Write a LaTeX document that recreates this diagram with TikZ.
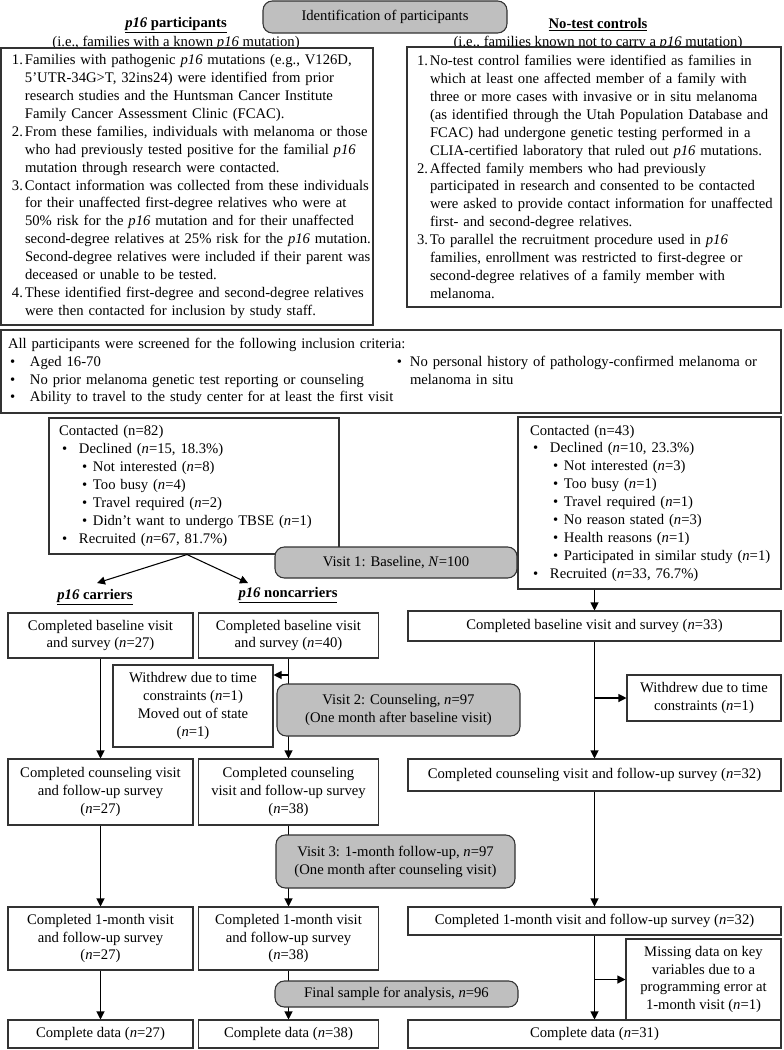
\documentclass[tikz,border=0pt]{standalone}
\usepackage{fontspec}
\setmainfont{Liberation Serif}
\usepackage{tikz}
\usetikzlibrary{arrows,arrows.meta,positioning}

\newdimen\px \px=0.75pt
% numbered item: first line and continuation line (never broken)
\newcommand{\li}[2]{\mbox{\makebox[13\px][l]{#1}#2}}
\newcommand{\lc}[1]{\mbox{\hspace*{13\px}#1}}
% bullet item: #1 shift, #2 bullet width
\newcommand{\bitem}[2]{\par\noindent\hangindent=\dimexpr#1\px+#2\px\relax\hangafter=1\hspace*{#1\px}\makebox[#2\px][l]{\textbullet}}
\newcommand{\cbul}{\hspace*{3\px}\makebox[17\px][l]{\textbullet}}
\newcommand{\sbul}{\hspace*{23\px}\makebox[11\px][l]{\textbullet}}

\begin{document}
\begin{tikzpicture}[x=0.75pt,y=-0.75pt,
  every node/.style={font=\fontsize{11}{13.4}\selectfont},
  box/.style={draw=black!80, line width=0.8pt, fill=white, inner sep=0pt, align=center},
  visit/.style={box, fill=black!25, rounded corners=7pt},
  sz/.style 2 args={minimum width=#1\px, minimum height=#2\px},
  lbl/.style={inner sep=0pt},
  arr/.style={-{Triangle[length=6pt,width=6pt]}, line width=0.8pt}]
\useasboundingbox (0,0) rectangle (784,1050);

% headings
\node[lbl] (lhead) at (176,25) {\underline{\textbf{\textit{p16} participants}}};
\node[lbl] (lsub) at (176,43) {(i.e., families with a known \textit{p16} mutation)};
\node[lbl] (rhead) at (598,25) {\underline{\textbf{No-test controls}}};
\node[lbl] (rsub) at (598,43) {(i.e., families known not to carry a \textit{p16} mutation)};

\node[box, sz={372}{277}, text width=350\px, align=left] (lbox) at (187,186.5) {%
\li{1.}{Families with pathogenic \textit{p16} mutations (e.g., V126D,}\\
\lc{5’UTR-34G>T, 32ins24) were identified from prior}\\
\lc{research studies and the Huntsman Cancer Institute}\\
\lc{Family Cancer Assessment Clinic (FCAC).}\\
\li{2.}{From these families, individuals with melanoma or those}\\
\lc{who had previously tested positive for the familial \textit{p16}}\\
\lc{mutation through research were contacted.}\\
\li{3.}{Contact information was collected from these individuals}\\
\lc{for their unaffected first-degree relatives who were at}\\
\lc{50\% risk for the \textit{p16} mutation and for their unaffected}\\
\lc{second-degree relatives at 25\% risk for the \textit{p16} mutation.}\\
\lc{Second-degree relatives were included if their parent was}\\
\lc{deceased or unable to be tested.}\\
\li{4.}{These identified first-degree and second-degree relatives}\\
\lc{were then contacted for inclusion by study staff.}};

\node[box, sz={374}{260}, text width=354\px, align=left] (rbox) at (594,177) {%
\li{1.}{No-test control families were identified as families in}\\
\lc{which at least one affected member of a family with}\\
\lc{three or more cases with invasive or in situ melanoma}\\
\lc{(as identified through the Utah Population Database and}\\
\lc{FCAC) had undergone genetic testing performed in a}\\
\lc{CLIA-certified laboratory that ruled out \textit{p16} mutations.}\\
\li{2.}{Affected family members who had previously}\\
\lc{participated in research and consented to be contacted}\\
\lc{were asked to provide contact information for unaffected}\\
\lc{first- and second-degree relatives.}\\
\li{3.}{To parallel the recruitment procedure used in \textit{p16}}\\
\lc{families, enrollment was restricted to first-degree or}\\
\lc{second-degree relatives of a family member with}\\
\lc{melanoma.}};

\node[box, sz={780}{83}, text width=766\px, align=left] (incl) at (391,371.5) {%
All participants were screened for the following inclusion criteria:\par
\noindent\parbox[t]{389\px}{\bitem{2}{20}Aged 16-70\bitem{2}{20}No prior melanoma genetic test reporting or counseling\bitem{2}{20}Ability to travel to the study center for at least the first visit}%
\parbox[t]{377\px}{\bitem{0}{13}No personal history of pathology-confirmed melanoma or\newline melanoma in situ}};

\node[box, sz={290}{136}, text width=270\px, align=left] (lcont) at (194,486) {%
Contacted (n=82)\\
\cbul Declined (\textit{n}=15, 18.3\%)\\
\sbul Not interested (\textit{n}=8)\\
\sbul Too busy (\textit{n}=4)\\
\sbul Travel required (\textit{n}=2)\\
\sbul \mbox{Didn’t want to undergo TBSE (\textit{n}=1)}\\
\cbul Recruited (\textit{n}=67, 81.7\%)};

\node[box, sz={263}{172}, text width=239\px, align=left] (rcont) at (649.5,503) {%
Contacted (n=43)\\
\cbul Declined (\textit{n}=10, 23.3\%)\\
\sbul Not interested (\textit{n}=3)\\
\sbul Too busy (\textit{n}=1)\\
\sbul Travel required (\textit{n}=1)\\
\sbul No reason stated (\textit{n}=3)\\
\sbul Health reasons (\textit{n}=1)\\
\sbul \mbox{Participated in similar study (\textit{n}=1)}\\
\cbul Recruited (\textit{n}=33, 76.7\%)};

\node[lbl] (carlab) at (95,597) {\underline{\textbf{\textit{p16} carriers}}};
\node[lbl] (noncarlab) at (288,595) {\underline{\textbf{\textit{p16} noncarriers}}};
\coordinate (ca) at (97,583);
\coordinate (nca) at (248,583);

% baseline row
\node[box, sz={185}{45}] (cb1) at (100.5,635.5) {Completed baseline visit\\and survey (\textit{n}=27)};
\node[box, sz={180}{45}] (nb1) at (288.5,635.5) {Completed baseline visit\\and survey (\textit{n}=40)};
\node[box, sz={373}{30}] (rb1) at (594.5,626) {Completed baseline visit and survey (\textit{n}=33)};
\node[box, sz={160}{82}] (lwd) at (193,706) {Withdrew due to time\\constraints (\textit{n}=1)\\Moved out of state\\(\textit{n}=1)};
\node[box, sz={154}{46}] (rwd) at (704,698) {Withdrew due to time\\constraints (\textit{n}=1)};

% counseling row
\node[box, sz={185}{66}] (cb2) at (100.5,792) {Completed counseling visit\\and follow-up survey\\(\textit{n}=27)};
\node[box, sz={180}{66}] (nb2) at (288.5,792) {Completed counseling\\visit and follow-up survey\\(\textit{n}=38)};
\node[box, sz={373}{32}] (rb2) at (594.5,775) {Completed counseling visit and follow-up survey (\textit{n}=32)};

% 1-month row
\node[box, sz={185}{63}] (cb3) at (100.5,938.5) {Completed 1-month visit\\and follow-up survey\\(\textit{n}=27)};
\node[box, sz={180}{63}] (nb3) at (288.5,938.5) {Completed 1-month visit\\and follow-up survey\\(\textit{n}=38)};
\node[box, sz={373}{28}] (rb3) at (594.5,921) {Completed 1-month visit and follow-up survey (\textit{n}=32)};
\node[box, sz={155}{81}] (miss) at (703.5,979.5) {Missing data on key\\variables due to a\\programming error at\\1-month visit (\textit{n}=1)};

% final row
\node[box, sz={185}{28}] (cb4) at (100.5,1034) {Complete data (\textit{n}=27)};
\node[box, sz={180}{28}] (nb4) at (288.5,1034) {Complete data (\textit{n}=38)};
\node[box, sz={373}{28}] (rb4) at (594.5,1034) {Complete data (\textit{n}=31)};

% connectors
\draw[arr] (lcont.south) ++(-7,0) coordinate (sp) -- (ca);
\draw[arr] (sp) -- (nca);
\draw[arr] (rcont.south -| rb1.north) -- (rb1.north);

\draw[arr] (cb1.south) -- (cb2.north);
\draw[arr] (cb2.south) -- (cb3.north);
\draw[arr] (cb3.south) -- (cb4.north);

\draw[arr] (nb1.south) -- (nb2.north);
\coordinate (w1) at (288.5,675);
\draw[arr] (w1) -- (w1 -| lwd.east);
\draw[arr] (nb2.south) -- (nb3.north);
\draw[arr] (nb3.south) -- (nb4.north);

\draw[arr] (rb1.south) -- (rb2.north);
\draw[arr] (rb1.south |- rwd.west) -- (rwd.west);
\draw[arr] (rb2.south) -- (rb3.north);
\draw[arr] (rb3.south) -- (rb4.north);
\draw[arr] (rb3.south |- miss.west) -- (miss.west);

% grey stage boxes on top
\node[visit, sz={244}{32}] (title) at (385,17) {Identification of participants};
\node[visit, sz={242}{31}] (v1) at (396,562.5) {Visit 1: Baseline, \textit{N}=100};
\node[visit, sz={243}{52}] (v2) at (398.5,710) {Visit 2: Counseling, \textit{n}=97\\(One month after baseline visit)};
\node[visit, sz={239}{53}] (v3) at (395.5,861.5) {Visit 3: 1-month follow-up, \textit{n}=97\\(One month after counseling visit)};
\node[visit, sz={243}{26}] (fin) at (396.5,994) {Final sample for analysis, \textit{n}=96};
\end{tikzpicture}
\end{document}
